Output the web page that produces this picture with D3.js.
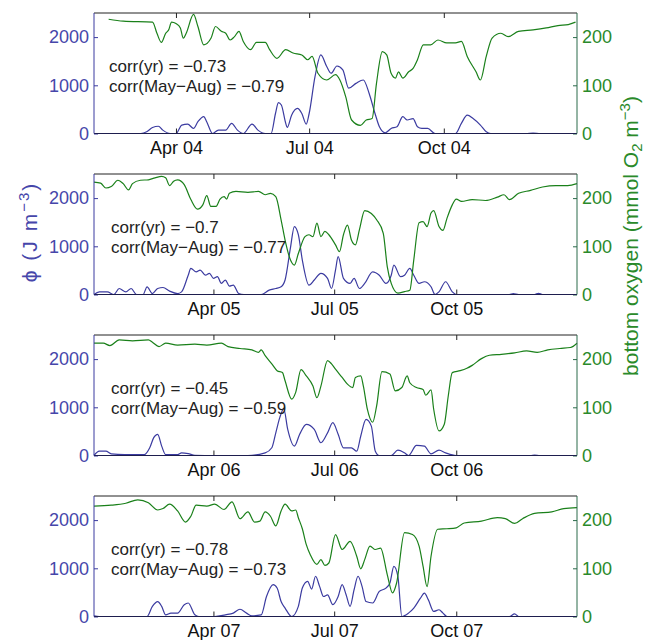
<!DOCTYPE html>
<html lang="en">
<head>
<meta charset="utf-8">
<title>phi vs bottom oxygen</title>
<script src="https://cdn.jsdelivr.net/npm/d3@7"></script>
<style>
  body { margin: 0; background: #fff; }
  svg text { font-family: "Liberation Sans", Helvetica, Arial, sans-serif; }
</style>
</head>
<body>
<script>
// one panel per year; day-of-year (0 = Jan 1) and value pairs
const years = [2004, 2005, 2006, 2007]
const firstDay = [35, 0, 0, 0]
const corrYear = ["\u22120.73", "\u22120.7", "\u22120.45", "\u22120.78"]
const corrSummer = ["\u22120.79", "\u22120.77", "\u22120.59", "\u22120.73"]
const phiTicks = [0, 1000, 2000]
const oxyTicks = [0, 100, 200]
const monthTicks = [3, 6, 9]   // Apr, Jul, Oct

const phi04 = [[35,0],[67,0],[71,35],[75,125],[79,150],[82,70],[87,0],[91,0],[95,175],[99,195],[103,105],[106,245],[110,350],[112,245],[116,0],[120,70],[125,70],[129,210],[133,70],[137,0],[143,195],[147,70],[152,0],[156,0],[159,415],[161,640],[163,590],[166,210],[167,125],[170,380],[174,520],[177,415],[180,195],[182,415],[186,1180],[190,1630],[194,1390],[197,1250],[201,1400],[205,1320],[209,940],[214,1040],[219,1110],[223,830],[227,415],[230,140],[234,15],[238,105],[242,140],[246,350],[249,280],[253,310],[256,140],[259,105],[263,105],[268,0],[282,0],[286,210],[290,380],[294,310],[299,175],[303,35],[306,0],[330,0],[335,10],[340,0],[365,0]]
const oxy04 = [[45,237],[55,233],[75,231],[78,208],[81,189],[84,208],[86,215],[88,231],[91,228],[94,219],[96,198],[98,208],[103,247],[106,222],[110,184],[115,198],[118,222],[122,212],[125,208],[128,194],[131,201],[134,212],[137,191],[142,174],[146,189],[152,189],[155,174],[160,156],[166,174],[171,167],[177,163],[181,153],[184,160],[188,125],[194,111],[200,122],[203,111],[207,76],[211,28],[217,17],[221,28],[225,31],[228,104],[232,170],[235,163],[238,125],[241,115],[243,128],[246,115],[250,128],[253,135],[256,153],[260,184],[265,184],[270,194],[276,188],[282,188],[286,191],[290,160],[296,128],[299,111],[303,160],[307,198],[313,208],[318,201],[325,212],[335,215],[344,219],[352,224],[359,226],[364,231]]

const phi05 = [[0,0],[4,55],[10,55],[15,0],[19,125],[24,55],[28,125],[32,0],[37,0],[40,160],[44,20],[48,125],[52,145],[57,70],[63,20],[66,55],[71,400],[73,540],[77,470],[80,505],[84,400],[87,440],[90,335],[93,370],[96,230],[99,300],[102,175],[105,195],[109,20],[113,0],[126,0],[132,90],[137,125],[141,160],[144,300],[148,960],[151,1410],[154,1240],[157,715],[162,195],[166,300],[171,440],[176,335],[179,125],[182,505],[184,785],[188,335],[193,230],[196,335],[200,125],[204,230],[210,470],[215,400],[220,230],[224,400],[226,610],[231,370],[234,400],[238,540],[241,400],[245,230],[249,265],[254,160],[257,0],[260,55],[265,265],[270,55],[273,0],[313,0],[316,20],[320,0],[332,0],[335,25],[338,0],[364,0]]
const oxy05 = [[0,233],[5,231],[9,221],[13,224],[18,237],[22,230],[26,217],[29,230],[35,237],[41,238],[46,242],[51,245],[54,242],[57,226],[60,235],[63,238],[68,228],[73,197],[78,177],[82,186],[85,205],[88,183],[92,183],[95,198],[98,203],[100,198],[102,210],[107,214],[116,212],[124,214],[129,207],[133,210],[137,203],[141,155],[144,113],[148,72],[151,61],[154,85],[159,120],[162,124],[165,120],[168,148],[171,120],[174,131],[177,124],[182,103],[185,89],[188,124],[191,144],[194,113],[197,103],[200,134],[204,174],[209,168],[213,155],[218,127],[221,58],[224,23],[229,3],[234,6],[238,9],[241,72],[245,149],[248,151],[251,141],[254,169],[256,174],[260,141],[263,133],[266,158],[270,186],[273,198],[277,193],[285,197],[295,195],[304,202],[309,207],[313,197],[320,210],[329,216],[338,223],[348,226],[357,226],[364,230]]

const phi06 = [[0,0],[4,90],[9,90],[13,35],[23,20],[38,20],[42,160],[45,370],[48,440],[51,195],[54,20],[63,20],[66,55],[71,40],[76,5],[91,0],[116,0],[129,55],[134,160],[137,470],[140,785],[143,970],[146,540],[151,195],[155,440],[160,645],[166,540],[171,265],[176,470],[180,680],[184,440],[188,160],[194,160],[198,90],[201,400],[205,750],[209,610],[212,90],[215,0],[224,0],[229,110],[234,55],[237,0],[243,210],[249,195],[254,35],[260,110],[265,55],[273,0],[329,0],[332,10],[336,0],[364,0]]
const oxy06 = [[0,233],[7,233],[12,228],[19,240],[29,238],[41,240],[44,235],[49,226],[54,233],[63,229],[76,231],[85,229],[96,233],[101,226],[110,222],[119,219],[124,214],[126,219],[129,207],[134,190],[138,176],[142,172],[144,155],[149,117],[152,131],[156,178],[160,165],[165,144],[168,120],[171,144],[176,197],[179,190],[182,179],[187,162],[191,148],[195,141],[197,162],[201,165],[203,144],[206,96],[210,69],[213,103],[217,174],[223,169],[227,134],[232,141],[236,165],[238,151],[243,141],[248,137],[250,125],[254,136],[256,96],[260,51],[264,65],[267,124],[270,172],[276,176],[281,181],[285,187],[292,201],[298,208],[307,210],[317,213],[326,217],[334,214],[342,219],[351,222],[359,224],[364,233]]

const phi07 = [[0,15],[4,0],[40,0],[44,210],[48,310],[51,210],[54,35],[58,70],[63,70],[68,245],[71,280],[76,35],[79,0],[91,0],[99,35],[105,70],[110,150],[115,70],[119,15],[126,35],[130,415],[135,660],[138,590],[141,310],[144,175],[149,0],[154,210],[157,590],[161,730],[164,570],[167,835],[170,625],[173,415],[176,450],[180,245],[184,415],[187,660],[190,450],[193,210],[196,555],[199,835],[202,625],[205,310],[210,280],[215,520],[220,590],[223,695],[226,1040],[229,835],[232,0],[237,70],[241,175],[246,380],[249,485],[252,345],[256,105],[260,140],[263,70],[266,0],[313,0],[317,55],[320,0],[364,0]]
const oxy07 = [[0,229],[13,231],[24,235],[33,242],[41,236],[48,221],[52,224],[57,233],[63,219],[69,196],[73,208],[77,231],[85,229],[91,233],[98,222],[104,238],[110,203],[116,217],[121,196],[125,198],[129,217],[133,208],[137,188],[141,219],[144,233],[149,219],[152,221],[154,205],[157,182],[160,149],[163,128],[168,108],[171,118],[174,106],[177,111],[182,170],[187,139],[193,156],[198,125],[201,99],[204,118],[208,146],[212,139],[216,142],[221,87],[225,49],[228,69],[234,174],[240,170],[245,146],[248,104],[251,62],[254,125],[259,181],[266,182],[273,184],[279,194],[292,198],[304,205],[310,203],[317,193],[323,203],[332,214],[345,217],[354,224],[364,226]]

const phiSeries = [phi04, phi05, phi06, phi07]
const oxySeries = [oxy04, oxy05, oxy06, oxy07]

const w = 648, h = 640
const left = 94, right = 577
const panelTop = 13, panelStep = 161, panelH = 120.5
const tickFont = 18

const blue = "#3b3ba0", blueText = "#4646aa"
const green = "#1a801a", greenText = "#2a8a2a"

const svg = d3.select("body").append("svg")
    .attr("width", w)
    .attr("height", h)

years.forEach((yr, i) => {
    const top = panelTop + i * panelStep
    const bottom = top + panelH
    const day = d => d3.timeDay.offset(new Date(yr, 0, 1), d)

    const x = d3.scaleTime()
        .domain([day(firstDay[i]), new Date(yr, 11, 31)])
        .range([left, right])
    const yPhi = d3.scaleLinear().domain([0, 2500]).range([bottom, top])
    const yOxy = d3.scaleLinear().domain([0, 250]).range([bottom, top])

    const g = svg.append("g")

    // lines
    const phiLine = d3.line()
        .x(d => x(day(d[0])))
        .y(d => yPhi(d[1]))
        .curve(d3.curveMonotoneX)
    const oxyLine = d3.line()
        .x(d => x(day(d[0])))
        .y(d => yOxy(d[1]))
        .curve(d3.curveMonotoneX)

    g.append("path").datum(phiSeries[i])
        .attr("d", phiLine)
        .attr("fill", "none")
        .attr("stroke", blue)
        .attr("stroke-width", 1.2)
    g.append("path").datum(oxySeries[i])
        .attr("d", oxyLine)
        .attr("fill", "none")
        .attr("stroke", green)
        .attr("stroke-width", 1.2)

    // x axis, ticks inward on bottom and top
    const xTicks = monthTicks.map(m => new Date(yr, m, 1))
    const xb = g.append("g")
        .attr("transform", `translate(0,${bottom})`)
        .call(d3.axisBottom(x).tickValues(xTicks).tickSize(-5).tickPadding(8)
            .tickFormat(d3.timeFormat("%b %y")))
    xb.select(".domain").remove()
    xb.selectAll("line").attr("stroke", "#222")
    xb.selectAll("text").attr("font-size", tickFont).attr("fill", "#111")
        .attr("font-family", null)

    const xt = g.append("g")
        .attr("transform", `translate(0,${top})`)
        .call(d3.axisTop(x).tickValues(xTicks).tickSize(-5).tickFormat(""))
    xt.select(".domain").remove()
    xt.selectAll("line").attr("stroke", "#222")

    // left axis (phi)
    const yl = g.append("g")
        .attr("transform", `translate(${left},0)`)
        .call(d3.axisLeft(yPhi).tickValues(phiTicks).tickSize(-4).tickPadding(5)
            .tickFormat(d3.format("d")))
    yl.select(".domain").remove()
    yl.selectAll("line").attr("stroke", blue)
    yl.selectAll("text").attr("font-size", tickFont).attr("fill", blueText)
        .attr("font-family", null)

    // right axis (oxygen)
    const yr2 = g.append("g")
        .attr("transform", `translate(${right},0)`)
        .call(d3.axisRight(yOxy).tickValues(oxyTicks).tickSize(-4).tickPadding(5)
            .tickFormat(d3.format("d")))
    yr2.select(".domain").remove()
    yr2.selectAll("line").attr("stroke", "#2a6a4a")
    yr2.selectAll("text").attr("font-size", tickFont).attr("fill", greenText)
        .attr("font-family", null)

    // frame
    g.append("line").attr("x1", left).attr("x2", right).attr("y1", top).attr("y2", top)
        .attr("stroke", "#222")
    g.append("line").attr("x1", left).attr("x2", right).attr("y1", bottom).attr("y2", bottom)
        .attr("stroke", "#1e1e4e")
    g.append("line").attr("x1", left).attr("x2", left).attr("y1", top).attr("y2", bottom)
        .attr("stroke", blue)
    g.append("line").attr("x1", right).attr("x2", right).attr("y1", top).attr("y2", bottom)
        .attr("stroke", "#2a6a4a")

    // correlation text
    const tx = i === 0 ? 109 : 111
    g.append("text").attr("x", tx).attr("y", top + 58.7)
        .attr("font-size", 17).attr("fill", "#222")
        .text(`corr(yr) = ${corrYear[i]}`)
    g.append("text").attr("x", tx).attr("y", top + 78.7)
        .attr("font-size", 17).attr("fill", "#222")
        .text(`corr(May\u2212Aug) = ${corrSummer[i]}`)
})

// y labels
const ly = svg.append("text")
    .attr("transform", "translate(37,232) rotate(-90)")
    .attr("text-anchor", "middle")
    .attr("font-size", 21)
    .attr("letter-spacing", 2)
    .attr("fill", blueText)
ly.append("tspan").text("\u03d5 (J m")
ly.append("tspan").attr("dy", -8).attr("font-size", 15).text("\u22123")
ly.append("tspan").attr("dy", 8).text(")")

const ry = svg.append("text")
    .attr("transform", "translate(638,236) rotate(-90)")
    .attr("text-anchor", "middle")
    .attr("font-size", 21)
    .attr("fill", greenText)
ry.append("tspan").text("bottom oxygen (mmol O")
ry.append("tspan").attr("dy", 4).attr("font-size", 15).text("2")
ry.append("tspan").attr("dy", -4).text(" m")
ry.append("tspan").attr("dy", -8).attr("font-size", 15).text("\u22123")
ry.append("tspan").attr("dy", 8).text(")")
</script>
</body>
</html>
